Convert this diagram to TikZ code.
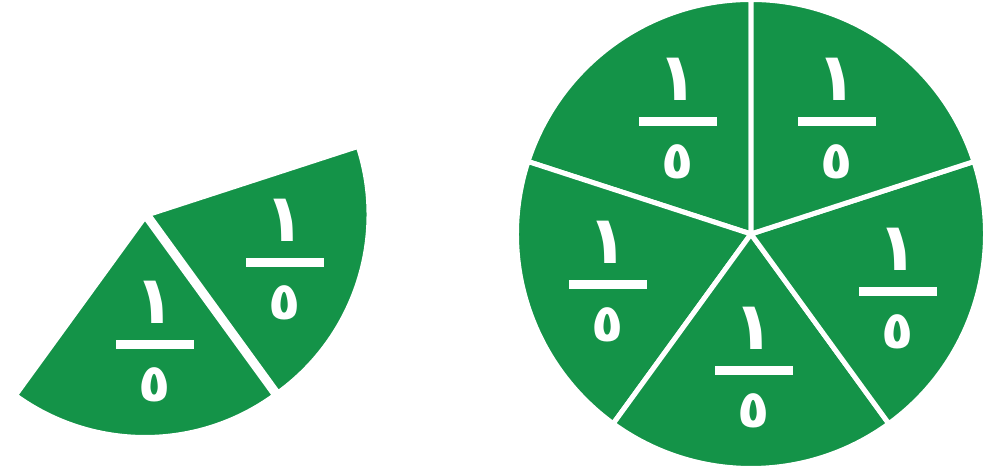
\documentclass[tikz,border=0pt]{standalone}
\usepackage{fontspec}
\usepackage{tikz}
\newfontfamily\arabicfont[Script=Arabic]{DejaVu Sans}
\TeXXeTstate=1
\definecolor{piegreen}{RGB}{20,147,72}

% one fifth, written with Arabic-Indic digits (bar at the centre)
\newcommand{\onefifth}{\vbox{%
  \vbox to 1.2cm{\vss\hbox to 1.56cm{\hss
    \fontsize{38}{38}\selectfont\beginR ١\endR\hss}\kern 0.33cm}%
  \hrule height 0.18cm
  \vbox to 1.2cm{\kern 0.36cm\hbox to 1.56cm{\hss
    \fontsize{30}{30}\selectfont\beginR ٥\endR\hss}\vss}}}

\begin{document}
\begin{tikzpicture}[x=0.02cm, y=0.02cm,
  slice/.style={fill=piegreen, draw=white, line width=1mm},
  fifth/.style={text=white, inner sep=0pt,
    font=\arabicfont\bfseries}]
  \useasboundingbox (0,0) rectangle (988,475);
  \fill[white] (0,0) rectangle (988,475);

  % Whole pie cut into five slices
  \coordinate (c) at (751,241);
  \fill[slice] (c) -- ++(90:234.5)
    arc[start angle=90, end angle=162, radius=234.5] -- cycle;
  \fill[slice] (c) -- ++(162:234.5)
    arc[start angle=162, end angle=234, radius=234.5] -- cycle;
  \fill[slice] (c) -- ++(234:234.5)
    arc[start angle=234, end angle=306, radius=234.5] -- cycle;
  \fill[slice] (c) -- ++(306:234.5)
    arc[start angle=306, end angle=378, radius=234.5] -- cycle;
  \fill[slice] (c) -- ++(18:234.5)
    arc[start angle=18, end angle=90, radius=234.5] -- cycle;

  % Two loose slices on the left
  \coordinate (a) at (145,258);
  \coordinate (b) at (148.5,260.5);
  \fill[slice] (a) -- ++(234:220.5)
    arc[start angle=234, end angle=306, radius=220.5] -- cycle;
  \fill[slice] (b) -- ++(306:220.5)
    arc[start angle=306, end angle=378, radius=220.5] -- cycle;

  % Labels
  \node[fifth] (q1) at (678,353) {\onefifth};
  \node[fifth] (q2) at (837,353) {\onefifth};
  \node[fifth] (q3) at (898,183) {\onefifth};
  \node[fifth] (q4) at (754,104) {\onefifth};
  \node[fifth] (q5) at (608,190) {\onefifth};
  \node[fifth] (p1) at (155,130) {\onefifth};
  \node[fifth] (p2) at (285,212) {\onefifth};
\end{tikzpicture}
\end{document}
